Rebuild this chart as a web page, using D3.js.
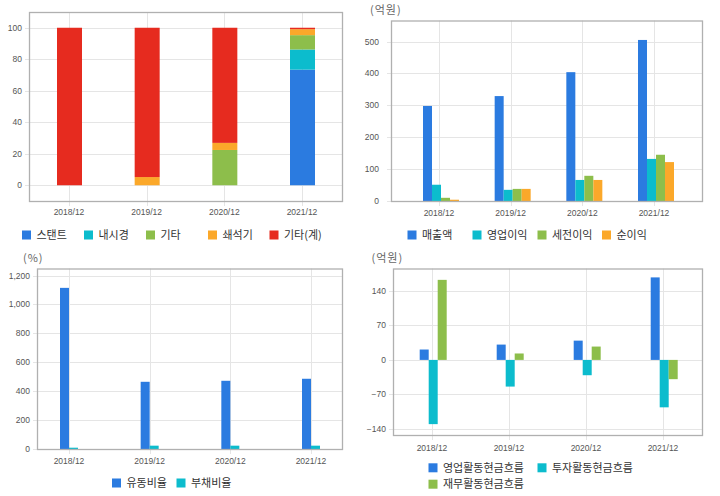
<!DOCTYPE html>
<html><head><meta charset="utf-8">
<script src="https://cdn.jsdelivr.net/npm/d3@7"></script>
<style>
html,body{margin:0;padding:0;background:#fff;}
svg{display:block;}
.tick{font-family:"Liberation Sans",Arial,sans-serif;font-size:8.5px;fill:#555;}
.kr{font-family:"Noto Sans CJK KR",sans-serif;font-size:11px;fill:#333;}
.unit{font-family:"Noto Sans CJK KR",sans-serif;font-size:11px;fill:#666;letter-spacing:1px;}
</style></head>
<body>
<script>
// ---------- DATA ----------
const categories = ["2018/12","2019/12","2020/12","2021/12"];

// Product mix (%)
const mixNames = ["스탠트","내시경","기타","쇄석기","기타(계)"];
const stent        = [0, 0, 0, 73.4];
const endoscope    = [0, 0, 0, 12.8];
const mixEtc       = [0, 0, 22.4, 9.1];
const lithotripter = [0, 5.2, 4.5, 3.8];
const etcTotal     = [100, 94.8, 73.1, 0.9];
const mixTicks = [0,20,40,60,80,100];

// Income (억원)
const incomeNames = ["매출액","영업이익","세전이익","순이익"];
const revenue   = [298, 329, 404, 505];
const opIncome  = [51, 35, 66, 132];
const preTax    = [10, 38, 79, 145];
const netIncome = [4, 38, 66, 122];
const incomeTicks = [0,100,200,300,400,500];

// Ratios (%)
const ratioNames = ["유동비율","부채비율"];
const currentRatio = [1115, 465, 472, 486];
const debtRatio    = [9, 23, 23, 23];
const ratioTicks = [0,200,400,600,800,1000,1200];

// Cash flow (억원)
const cfNames = ["영업활동현금흐름","투자활동현금흐름","재무활동현금흐름"];
const cfOperating = [21, 31, 39, 167];
const cfInvesting = [-130, -54, -31, -96];
const cfFinancing = [162, 13, 27, -39];
const cfTicks = [-140,-70,0,70,140];

// ---------- STYLE ----------
const C = {blue:"#2b7be0", cyan:"#0cbccd", green:"#8dbe4b", orange:"#fba82a", red:"#e62b1f"};

const svg = d3.select("body").append("svg").attr("width",720).attr("height",496);

function panel(cfg){
  const g = svg.append("g");
  const {fx0,fx1,fy0,fy1} = cfg;
  const y = d3.scaleLinear().domain(cfg.yDomain).range([fy1,fy0]);
  const x = d3.scalePoint().domain(categories).range([fx0+cfg.padL, fx1-cfg.padR]);
  // grid
  g.selectAll(".hg").data(cfg.yTicks).join("line")
    .attr("x1",fx0-4).attr("x2",fx1)
    .attr("y1",d=>Math.round(y(d))+0.5).attr("y2",d=>Math.round(y(d))+0.5)
    .attr("stroke","#e5e5e5");
  g.selectAll(".vg").data(categories).join("line")
    .attr("x1",d=>Math.round(x(d))+0.5).attr("x2",d=>Math.round(x(d))+0.5)
    .attr("y1",fy0).attr("y2",fy1+5)
    .attr("stroke","#e5e5e5");
  // y labels
  const fmt = d3.format(",");
  g.selectAll(".yl").data(cfg.yTicks).join("text").attr("class","tick")
    .attr("x",fx0-cfg.labelGap).attr("y",d=>y(d)).attr("dy","0.35em")
    .attr("text-anchor","end").text(d=>fmt(d));
  // x labels
  g.selectAll(".xl").data(categories).join("text").attr("class","tick")
    .attr("x",d=>x(d)).attr("y",cfg.xLabelY).attr("dy","0.35em")
    .attr("text-anchor","middle").text(d=>d);
  // bars
  if(cfg.stacked){
    const rows = categories.map((c,i)=>{const r={cat:c}; cfg.series.forEach(s=>r[s.name]=s.values[i]); return r;});
    const stack = d3.stack().keys(cfg.series.map(s=>s.name))(rows);
    stack.forEach((layer,k)=>{
      g.selectAll(null).data(layer).join("rect")
        .attr("x",d=>x(d.data.cat)-cfg.barW/2+cfg.groupOff)
        .attr("width",cfg.barW)
        .attr("y",d=>y(d[1]))
        .attr("height",d=>Math.max(0,y(d[0])-y(d[1])))
        .attr("fill",cfg.series[k].color);
    });
  } else {
    const n = cfg.series.length;
    const inner = d3.scaleBand().domain(cfg.series.map(s=>s.name)).range([-n*cfg.barW/2, n*cfg.barW/2]);
    cfg.series.forEach(s=>{
      g.selectAll(null).data(s.values).join("rect")
        .attr("x",(d,i)=>x(categories[i])+cfg.groupOff+inner(s.name))
        .attr("width",inner.bandwidth())
        .attr("y",d=>Math.min(y(d),y(0)))
        .attr("height",d=>Math.abs(y(d)-y(0)))
        .attr("fill",s.color);
    });
  }
  // frame
  g.append("rect").attr("x",fx0+0.5).attr("y",fy0+0.5)
    .attr("width",fx1-fx0).attr("height",fy1-fy0)
    .attr("fill","none").attr("stroke","#b0b0b0").attr("stroke-width",1.3);
  // unit
  if(cfg.unit){
    g.append("text").attr("class","unit").attr("x",cfg.unit[1]).attr("y",cfg.unit[2])
      .attr("dy","0.35em").text(cfg.unit[0]);
  }
  // legend
  cfg.series.forEach((s,i)=>{
    const p = cfg.legendPos[i];
    g.append("rect").attr("x",p[0]).attr("y",p[1]-4.5).attr("width",9).attr("height",9).attr("fill",s.color);
    g.append("text").attr("class","kr").attr("x",p[0]+14.5).attr("y",p[1]).attr("dy","0.36em").text(s.name);
  });
}

panel({
  fx0:29, fx1:342, fy0:12, fy1:201, padL:40, padR:40,
  yDomain:[-10,110], yTicks:mixTicks, labelGap:7, xLabelY:212.5,
  stacked:true, barW:25, groupOff:0.5,
  series:[
    {name:mixNames[0], color:C.blue, values:stent},
    {name:mixNames[1], color:C.cyan, values:endoscope},
    {name:mixNames[2], color:C.green, values:mixEtc},
    {name:mixNames[3], color:C.orange, values:lithotripter},
    {name:mixNames[4], color:C.red, values:etcTotal}
  ],
  legendPos:[[22,235],[84,235],[146,235],[208,235],[269.5,235]]
});

panel({
  fx0:391, fx1:702, fy0:20.5, fy1:201, padL:48, padR:48,
  yDomain:[0,566], yTicks:incomeTicks, labelGap:12, xLabelY:213,
  stacked:false, barW:9, groupOff:2,
  series:[
    {name:incomeNames[0], color:C.blue, values:revenue},
    {name:incomeNames[1], color:C.cyan, values:opIncome},
    {name:incomeNames[2], color:C.green, values:preTax},
    {name:incomeNames[3], color:C.orange, values:netIncome}
  ],
  unit:["(억원)",370,10],
  legendPos:[[407.5,235],[472.5,235],[537.5,235],[602,235]]
});

panel({
  fx0:37, fx1:342, fy0:268.5, fy1:449, padL:32, padR:31,
  yDomain:[0,1249], yTicks:ratioTicks, labelGap:7, xLabelY:461.5,
  stacked:false, barW:9, groupOff:0,
  series:[
    {name:ratioNames[0], color:C.blue, values:currentRatio},
    {name:ratioNames[1], color:C.cyan, values:debtRatio}
  ],
  unit:["(%)",23,258],
  legendPos:[[112,483],[176.5,483]]
});

panel({
  fx0:393, fx1:702, fy0:268.5, fy1:435, padL:39, padR:39,
  yDomain:[-152,185], yTicks:cfTicks, labelGap:7, xLabelY:448,
  stacked:false, barW:9, groupOff:1.2,
  series:[
    {name:cfNames[0], color:C.blue, values:cfOperating},
    {name:cfNames[1], color:C.cyan, values:cfInvesting},
    {name:cfNames[2], color:C.green, values:cfFinancing}
  ],
  unit:["(억원)",371.5,258],
  legendPos:[[428.5,467.8],[537.5,467.8],[428.5,484.2]]
});
</script>
</body></html>
